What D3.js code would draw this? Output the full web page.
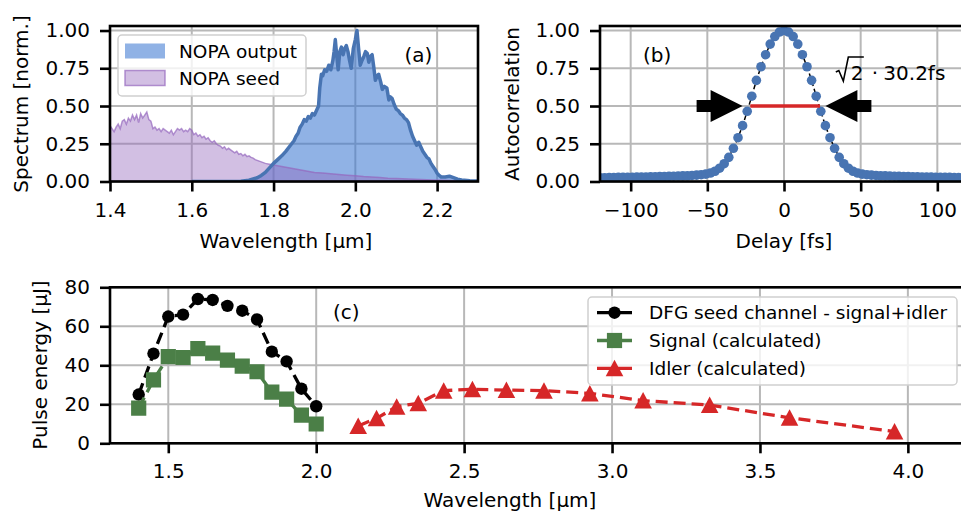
<!DOCTYPE html>
<html>
<head>
<meta charset="utf-8">
<script src="https://cdn.jsdelivr.net/npm/d3@7"></script>
<style>
  body { margin: 0; background: #fff; }
  svg { display: block; font-family: "DejaVu Sans", sans-serif; }
</style>
</head>
<body>
<svg id="chart" width="961" height="515"></svg>
<script>
// ---- data ----
// (a) spectra: [wavelength µm, normalised intensity]
const outputSpectrum = [
  [1.60,0],[1.65,0],[1.70,0.000],[1.72,0.002],[1.74,0.008],[1.76,0.025],[1.77,0.04],[1.78,0.06],[1.79,0.09],
  [1.80,0.12],[1.81,0.145],[1.82,0.17],[1.83,0.20],[1.84,0.235],[1.85,0.27],[1.855,0.30],[1.86,0.32],
  [1.865,0.36],[1.87,0.38],[1.875,0.41],[1.88,0.40],[1.885,0.43],[1.89,0.42],[1.895,0.45],[1.90,0.44],
  [1.905,0.47],[1.91,0.50],[1.913,0.62],[1.917,0.71],[1.92,0.70],[1.925,0.74],[1.93,0.73],[1.935,0.77],
  [1.94,0.74],[1.945,0.80],[1.948,0.86],[1.951,0.94],[1.955,0.82],[1.958,0.74],[1.962,0.86],[1.966,0.89],
  [1.97,0.84],[1.974,0.88],[1.978,0.90],[1.982,0.86],[1.986,0.80],[1.99,0.75],[1.995,0.88],[2.00,0.94],
  [2.004,1.00],[2.008,0.88],[2.012,0.77],[2.016,0.80],[2.021,0.83],[2.025,0.86],[2.029,0.85],[2.033,0.79],
  [2.037,0.83],[2.041,0.84],[2.045,0.76],[2.049,0.67],[2.053,0.70],[2.057,0.71],[2.062,0.66],[2.066,0.61],
  [2.071,0.63],[2.077,0.62],[2.082,0.54],[2.086,0.56],[2.09,0.55],[2.095,0.51],[2.10,0.48],[2.105,0.47],
  [2.11,0.45],[2.115,0.44],[2.12,0.42],[2.125,0.41],[2.13,0.39],[2.135,0.34],[2.14,0.30],[2.145,0.27],
  [2.15,0.24],[2.155,0.26],[2.16,0.23],[2.165,0.20],[2.17,0.18],[2.175,0.16],[2.18,0.15],[2.185,0.12],
  [2.19,0.10],[2.195,0.08],[2.20,0.055],[2.205,0.04],[2.21,0.03],[2.22,0.03],[2.23,0.035],[2.24,0.025],
  [2.25,0.015],[2.26,0.01],[2.28,0.005],[2.30,0.003]
];
const seedSpectrum = [
  [1.400,0.37],[1.405,0.35],[1.410,0.33],[1.415,0.36],[1.420,0.38],[1.425,0.35],[1.430,0.40],[1.435,0.41],
  [1.440,0.38],[1.445,0.42],[1.450,0.40],[1.455,0.44],[1.460,0.41],[1.465,0.44],[1.470,0.39],[1.475,0.45],
  [1.480,0.42],[1.485,0.44],[1.490,0.46],[1.495,0.41],[1.500,0.40],[1.505,0.35],[1.510,0.36],[1.515,0.34],
  [1.520,0.35],[1.525,0.33],[1.530,0.35],[1.535,0.34],[1.540,0.33],[1.545,0.32],[1.550,0.34],[1.555,0.31],
  [1.560,0.33],[1.565,0.35],[1.570,0.34],[1.575,0.35],[1.580,0.33],[1.585,0.34],[1.590,0.33],[1.595,0.35],
  [1.600,0.34],[1.605,0.31],[1.610,0.32],[1.615,0.30],[1.620,0.31],[1.625,0.29],[1.630,0.30],[1.635,0.28],
  [1.640,0.29],[1.645,0.27],[1.650,0.26],[1.655,0.27],[1.660,0.25],[1.665,0.24],[1.670,0.235],[1.675,0.22],
  [1.680,0.23],[1.685,0.21],[1.690,0.22],[1.695,0.21],[1.700,0.20],[1.705,0.19],[1.710,0.20],[1.715,0.18],
  [1.720,0.185],[1.725,0.17],[1.730,0.18],[1.735,0.165],[1.740,0.17],[1.745,0.16],[1.750,0.155],[1.755,0.145],
  [1.760,0.14],[1.765,0.135],[1.770,0.13],[1.780,0.12],[1.790,0.115],[1.800,0.11],[1.810,0.105],[1.820,0.10],
  [1.830,0.095],[1.840,0.09],[1.850,0.085],[1.860,0.08],[1.870,0.075],[1.880,0.07],[1.890,0.065],[1.900,0.06],
  [1.920,0.057],[1.940,0.052],[1.960,0.047],[1.980,0.042],[2.000,0.038],[2.020,0.033],[2.040,0.030],
  [2.060,0.026],[2.080,0.022],[2.100,0.020],[2.130,0.017],[2.160,0.013],[2.190,0.010],[2.220,0.008],
  [2.250,0.005],[2.300,0.003]
];
const specLegend = ['NOPA output', 'NOPA seed'];

// (b) autocorrelation: [delay fs, value]
const autocorrelation = [
  [-120,0.025],[-117,0.025],[-114,0.026],[-111,0.026],[-108,0.027],[-105,0.027],[-102,0.028],[-99,0.028],
  [-96,0.029],[-93,0.029],[-90,0.030],[-87,0.031],[-84,0.031],[-81,0.032],[-78,0.033],[-75,0.034],
  [-72,0.035],[-69,0.036],[-66,0.037],[-63,0.038],[-60,0.040],[-57,0.042],[-54,0.045],[-51,0.049],
  [-48,0.056],[-45,0.068],[-42,0.088],[-39,0.118],[-36,0.16],[-33,0.22],[-30,0.29],[-27,0.37],
  [-24,0.465],[-21,0.565],[-18,0.67],[-15,0.76],[-12,0.84],[-9,0.91],[-6,0.96],[-3,0.99],[0,1.00],
  [3,0.99],[6,0.96],[9,0.91],[12,0.84],[15,0.76],[18,0.67],[21,0.565],[24,0.465],[27,0.37],[30,0.29],
  [33,0.22],[36,0.16],[39,0.118],[42,0.088],[45,0.068],[48,0.056],[51,0.049],[54,0.045],[57,0.042],
  [60,0.040],[63,0.038],[66,0.037],[69,0.036],[72,0.035],[75,0.034],[78,0.033],[81,0.032],[84,0.031],
  [87,0.031],[90,0.030],[93,0.029],[96,0.029],[99,0.028],[102,0.028],[105,0.027],[108,0.027],[111,0.026],
  [114,0.026],[117,0.025],[120,0.025]
];
const fwhmDelay = [-22, 23.5];
const arrowTails = [-57, 57];
const arrowTips = [-27, 27];

// (c) pulse energies
const dfgWl = [1.40,1.45,1.50,1.55,1.60,1.65,1.70,1.75,1.80,1.85,1.90,1.95,2.00];
const dfgEnergy = [25,46,65,66,74,73.5,70.5,68,63.5,47,42,28,19];
const signalWl = [1.40,1.45,1.50,1.55,1.60,1.65,1.70,1.75,1.80,1.85,1.90,1.95,2.00];
const signalEnergy = [18,32.5,44.4,44,48.6,46.2,42.7,39.6,36.7,26.2,22.7,14.5,9.9];
const idlerWl = [2.142,2.204,2.272,2.345,2.431,2.528,2.643,2.770,2.925,3.105,3.330,3.600,3.955];
const idlerEnergy = [8.9,12.8,18.8,20.5,27.0,27.7,27.3,27.0,25.6,21.9,19.6,13.1,6.0];
const energyLegend = ['DFG seed channel - signal+idler', 'Signal (calculated)', 'Idler (calculated)'];

// ticks
const specTicks = [1.4, 1.6, 1.8, 2.0, 2.2];
const normTicks = [0, 0.25, 0.5, 0.75, 1.0];
const delayTicks = [-100, -50, 0, 50, 100];
const wlTicks = [1.5, 2.0, 2.5, 3.0, 3.5, 4.0];
const energyTicks = [0, 20, 40, 60, 80];

// ---- setup ----
const svg = d3.select('#chart');
const BLUE = '#4874b2', RED = '#d62728', GREEN = '#4b7f47', PURPLE = '#9467bd';
const GRID = '#b8b8b8';

const xA = d3.scaleLinear().domain([1.4, 2.3]).range([110, 478]);
const yA = d3.scaleLinear().domain([0, 1.03]).range([181.5, 26]);
const xB = d3.scaleLinear().domain([-120, 120]).range([600, 968]);
const yB = d3.scaleLinear().domain([0, 1.03]).range([181.5, 26]);
const xC = d3.scaleLinear().domain([1.303, 4.21]).range([110, 970]);
const yC = d3.scaleLinear().domain([0, 80]).range([443.3, 287.3]);

function makePanel(name, x, y, xt, yt) {
  const [x0, x1] = x.range(), [y0, y1] = y.range();
  svg.append('clipPath').attr('id', 'clip-' + name)
    .append('rect').attr('x', x0).attr('y', y1).attr('width', x1 - x0).attr('height', y0 - y1);
  const g = svg.append('g').attr('class', 'panel-' + name);
  const grid = g.append('g').attr('class', 'grid');
  grid.selectAll('.gx').data(xt).join('line').attr('class', 'gx')
    .attr('x1', x).attr('x2', x).attr('y1', y0).attr('y2', y1);
  grid.selectAll('.gy').data(yt).join('line').attr('class', 'gy')
    .attr('x1', x0).attr('x2', x1).attr('y1', y).attr('y2', y);
  grid.selectAll('line').attr('stroke', GRID).attr('stroke-width', 2);
  const plot = g.append('g').attr('clip-path', `url(#clip-${name})`);
  return { g, plot };
}

function finishAxes(p, x, y, xt, yt, xfmt, yfmt) {
  const [x0, x1] = x.range(), [y0, y1] = y.range();
  p.g.append('rect').attr('x', x0).attr('y', y1).attr('width', x1 - x0).attr('height', y0 - y1)
    .attr('fill', 'none').attr('stroke', '#000').attr('stroke-width', 2.6);
  const ax = p.g.append('g').attr('transform', `translate(0,${y0})`)
    .call(d3.axisBottom(x).tickValues(xt).tickSize(10).tickPadding(11).tickSizeOuter(0).tickFormat(xfmt));
  const ay = p.g.append('g').attr('transform', `translate(${x0},0)`)
    .call(d3.axisLeft(y).tickValues(yt).tickSize(10).tickPadding(10).tickSizeOuter(0).tickFormat(yfmt));
  [ax, ay].forEach(a => {
    a.select('.domain').remove();
    a.selectAll('line').attr('stroke', '#000').attr('stroke-width', 2.6);
    a.selectAll('text').attr('font-size', 20).attr('fill', '#000').attr('font-family', '"DejaVu Sans", sans-serif');
  });
}

function xLabel(text, cx, y) {
  svg.append('text').attr('x', cx).attr('y', y).attr('text-anchor', 'middle')
    .attr('font-size', 20).text(text);
}
function yLabel(text, x, cy) {
  svg.append('text').attr('transform', `translate(${x},${cy}) rotate(-90)`)
    .attr('text-anchor', 'middle').attr('font-size', 20).text(text);
}

// ---- (a) spectra ----
const pA = makePanel('a', xA, yA, specTicks, normTicks);
const areaA = d3.area().x(d => xA(d[0])).y0(yA(0)).y1(d => yA(d[1]));
const lineA = d3.line().x(d => xA(d[0])).y(d => yA(d[1]));
pA.plot.append('path').datum(outputSpectrum).attr('d', areaA)
  .attr('fill', 'rgb(60,120,210)').attr('fill-opacity', 0.57);
pA.plot.append('path').datum(seedSpectrum).attr('d', areaA)
  .attr('fill', PURPLE).attr('fill-opacity', 0.42)
  .attr('stroke', PURPLE).attr('stroke-opacity', 0.7).attr('stroke-width', 1.5);
pA.plot.append('path').datum(outputSpectrum).attr('d', lineA)
  .attr('fill', 'none').attr('stroke', BLUE).attr('stroke-width', 3.5).attr('stroke-linejoin', 'round');
pA.plot.append('text').attr('x', xA(2.12)).attr('y', yA(0.79)).attr('font-size', 20).text('(a)');
finishAxes(pA, xA, yA, specTicks, normTicks, d3.format('.1f'), d3.format('.2f'));

const legA = pA.g.append('g');
legA.append('rect').attr('x', 118).attr('y', 35).attr('width', 188).attr('height', 61).attr('rx', 4)
  .attr('fill', '#fff').attr('fill-opacity', 0.8).attr('stroke', '#d0d0d0').attr('stroke-width', 1.5);
const legARows = legA.selectAll('.row').data(specLegend).join('g')
  .attr('transform', (d, i) => `translate(125,${51 + i * 27})`);
legARows.append('rect').attr('x', 0).attr('y', -7.5).attr('width', 40).attr('height', 15)
  .attr('fill', (d, i) => i === 0 ? 'rgb(60,120,210)' : PURPLE)
  .attr('fill-opacity', (d, i) => i === 0 ? 0.57 : 0.42)
  .attr('stroke', (d, i) => i === 0 ? 'none' : PURPLE).attr('stroke-opacity', 0.7).attr('stroke-width', 1.5);
legARows.append('text').attr('x', 54).attr('dy', '0.36em').attr('font-size', 18.5).text(d => d);

xLabel('Wavelength [µm]', 286, 248);
yLabel('Spectrum [norm.]', 28, 104);

// ---- (b) autocorrelation ----
const pB = makePanel('b', xB, yB, delayTicks, normTicks);
pB.plot.append('path').datum(autocorrelation)
  .attr('d', d3.line().x(d => xB(d[0])).y(d => yB(d[1])))
  .attr('fill', 'none').attr('stroke', '#000').attr('stroke-width', 1.5).attr('stroke-dasharray', '5,3');
pB.plot.selectAll('circle').data(autocorrelation).join('circle')
  .attr('cx', d => xB(d[0])).attr('cy', d => yB(d[1])).attr('r', 4.8).attr('fill', BLUE);
pB.plot.append('line').attr('x1', xB(fwhmDelay[0])).attr('x2', xB(fwhmDelay[1]))
  .attr('y1', yB(0.5)).attr('y2', yB(0.5)).attr('stroke', RED).attr('stroke-width', 3.5);
arrowTails.forEach((t, i) => {
  const tail = xB(t), tip = xB(arrowTips[i]), y = yB(0.5);
  const dir = Math.sign(tip - tail), base = tip - dir * 32;
  pB.plot.append('path').attr('fill', '#000')
    .attr('d', `M${tail},${y - 6}L${base},${y - 6}L${base},${y - 16}L${tip},${y}L${base},${y + 16}L${base},${y + 6}L${tail},${y + 6}Z`);
});
pB.plot.append('text').attr('x', xB(-92)).attr('y', yB(0.79)).attr('font-size', 20).text('(b)');
const ann = pB.plot.append('g').attr('transform', `translate(${xB(33.8)},${yB(0.672)})`);
ann.append('path').attr('d', 'M0,-8L3,-9.5L7.5,1L12.5,-23L28,-23')
  .attr('fill', 'none').attr('stroke', '#000').attr('stroke-width', 1.6);
ann.append('text').attr('x', 15).attr('font-size', 20).text('2');
ann.append('text').attr('x', 39).attr('text-anchor', 'middle').attr('font-size', 20).text('·');
ann.append('text').attr('x', 47.5).attr('font-size', 20).text('30.2fs');
finishAxes(pB, xB, yB, delayTicks, normTicks, d3.format('d'), d3.format('.2f'));

xLabel('Delay [fs]', 784, 248);
yLabel('Autocorrelation', 519, 104);

// ---- (c) pulse energy ----
const pC = makePanel('c', xC, yC, wlTicks, energyTicks);
const seriesC = [
  { wl: dfgWl, e: dfgEnergy, color: '#000', marker: 'circle' },
  { wl: signalWl, e: signalEnergy, color: GREEN, marker: 'square' },
  { wl: idlerWl, e: idlerEnergy, color: RED, marker: 'triangle' }
];
function markerPath(kind) {
  if (kind === 'circle') return d3.symbol(d3.symbolCircle, Math.PI * 6.2 * 6.2)();
  if (kind === 'square') return 'M-7.6,-7.6H7.6V7.6H-7.6Z';
  return 'M0,-8.5L8.8,8L-8.8,8Z';
}
seriesC.forEach(s => {
  const pts = s.wl.map((w, i) => [w, s.e[i]]);
  pC.plot.append('path').datum(pts)
    .attr('d', d3.line().x(d => xC(d[0])).y(d => yC(d[1])))
    .attr('fill', 'none').attr('stroke', s.color).attr('stroke-width', 3.3).attr('stroke-dasharray', '12,6');
  pC.plot.selectAll(null).data(pts).join('path')
    .attr('transform', d => `translate(${xC(d[0])},${yC(d[1])})`)
    .attr('d', markerPath(s.marker)).attr('fill', s.color);
});
pC.plot.append('text').attr('x', xC(2.057)).attr('y', yC(63.7)).attr('font-size', 20).text('(c)');
finishAxes(pC, xC, yC, wlTicks, energyTicks, d3.format('.1f'), d3.format('d'));

const legC = pC.g.append('g');
legC.append('rect').attr('x', 588).attr('y', 297).attr('width', 369).attr('height', 88).attr('rx', 4)
  .attr('fill', '#fff').attr('fill-opacity', 0.8).attr('stroke', '#d0d0d0').attr('stroke-width', 1.5);
const legCRows = legC.selectAll('.row').data(seriesC).join('g')
  .attr('transform', (d, i) => `translate(597,${312.7 + i * 27.8})`);
legCRows.append('line').attr('x1', 0).attr('x2', 35).attr('stroke', d => d.color).attr('stroke-width', 3.3);
legCRows.append('path').attr('transform', 'translate(17.5,0)').attr('d', d => markerPath(d.marker)).attr('fill', d => d.color);
legCRows.append('text').attr('x', 52).attr('dy', '0.36em').attr('font-size', 18.5).text((d, i) => energyLegend[i]);

xLabel('Wavelength [µm]', 510, 507);
yLabel('Pulse energy [µJ]', 47, 365);
</script>
</body>
</html>
